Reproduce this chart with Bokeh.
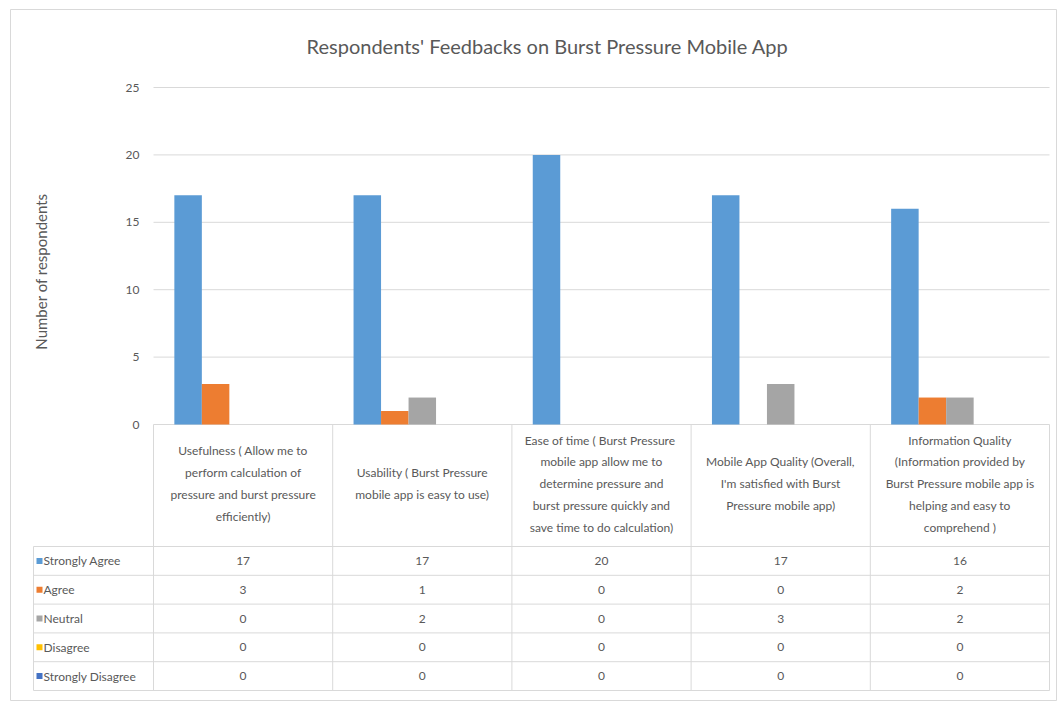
import math
from bokeh.plotting import figure
from bokeh.models import Range1d, FixedTicker, ColumnDataSource
from bokeh.core.properties import value
from bokeh.transform import dodge
from bokeh.embed import file_html
from bokeh.resources import INLINE

# ---------------- data ----------------
categories = [
    "Usefulness ( Allow me to\nperform calculation of\npressure and burst pressure\nefficiently)",
    "Usability ( Burst Pressure\nmobile app is easy to use)",
    "Ease of time (  Burst Pressure\nmobile app allow me to\ndetermine pressure and\nburst pressure quickly and\nsave time to do calculation)",
    "Mobile App Quality (Overall,\nI'm satisfied with Burst\nPressure mobile app)",
    "Information Quality\n(Information provided by\nBurst Pressure mobile app is\nhelping and easy to\ncomprehend )",
]
series_names = ["Strongly Agree", "Agree", "Neutral", "Disagree", "Strongly Disagree"]
strongly_agree = [17, 17, 20, 17, 16]
agree = [3, 1, 0, 0, 2]
neutral = [0, 2, 0, 3, 2]
disagree = [0, 0, 0, 0, 0]
strongly_disagree = [0, 0, 0, 0, 0]
y_ticks = [0, 5, 10, 15, 20, 25]
colors = ["#5B9BD5", "#ED7D31", "#A5A5A5", "#FFC000", "#4472C4"]
title_text = "Respondents' Feedbacks on Burst Pressure Mobile App"
y_title = "Number of respondents"

series_values = [strongly_agree, agree, neutral, disagree, strongly_disagree]

# ---------------- layout helpers ----------------
FRAME_L, FRAME_T, FRAME_R, FRAME_B = 10, 9, 1057, 700
X0_PX, COL_W = 153.0, 179.2      # pixel of category 0 left edge, pixel width of a category
Y0_PX, UNIT_PX = 424.0, 13.48    # pixel of value 0, pixels per unit
HEADER_BOTTOM, ROW_H = 546.0, 28.8
LEGEND_LEFT = 33.0
BW = 27.5 / COL_W
TXT = "#595959"
GRID = "#D9D9D9"
FONT = value("Lato")


def x_of(px):
    return (px - X0_PX) / COL_W


def y_of(py):
    return (Y0_PX - py) / UNIT_PX


p = figure(width=1057, height=701, output_backend="svg", toolbar_location=None,
           x_range=Range1d(x_of(FRAME_L), x_of(FRAME_R)),
           y_range=Range1d(y_of(FRAME_B), y_of(FRAME_T)),
           x_axis_location=None,
           min_border_left=FRAME_L, min_border_top=FRAME_T,
           min_border_right=0, min_border_bottom=1)
p.grid.visible = False
p.outline_line_color = GRID
p.background_fill_color = "white"
p.border_fill_color = "white"

# y axis inside the frame, at the left edge of the plot area
ax = p.yaxis[0]
ax.fixed_location = 0
ax.bounds = (min(y_ticks), max(y_ticks))
ax.ticker = FixedTicker(ticks=y_ticks)
ax.axis_line_color = None
ax.major_tick_line_color = None
ax.minor_tick_line_color = None
ax.major_label_text_color = TXT
ax.major_label_text_font = "Lato"
ax.major_label_text_font_size = "12px"
ax.major_label_standoff = 8

n = len(categories)
# gridlines over the plot area only
p.segment(x0=[0] * len(y_ticks), x1=[n] * len(y_ticks), y0=y_ticks, y1=y_ticks,
          line_color=GRID, line_width=1)

# bars
src = ColumnDataSource(dict(x=[i + 0.5 for i in range(n)],
                            s0=strongly_agree, s1=agree, s2=neutral,
                            s3=disagree, s4=strongly_disagree))
for j in range(len(series_names)):
    p.vbar(x=dodge("x", (j - 2) * BW, range=p.x_range), top="s%d" % j, bottom=0,
           width=BW, source=src, fill_color=colors[j], line_color=None)

# title
p.text(x=[x_of(547)], y=[y_of(45)], text=[title_text], text_align="center",
       text_baseline="middle", text_font=FONT, text_font_size="20px", text_color=TXT)
# y axis title
p.text(x=[x_of(40)], y=[y_of(271)], text=[y_title], angle=math.pi / 2,
       text_align="center", text_baseline="middle", text_font=FONT,
       text_font_size="15px", text_color=TXT)

# ---------------- data table ----------------
n_rows = len(series_names)
table_bottom = HEADER_BOTTOM + n_rows * ROW_H
# vertical lines of category columns
p.segment(x0=list(range(n + 1)), x1=list(range(n + 1)),
          y0=[0] * (n + 1), y1=[y_of(table_bottom)] * (n + 1),
          line_color=GRID, line_width=1)
# legend column left line
p.segment(x0=[x_of(LEGEND_LEFT)], x1=[x_of(LEGEND_LEFT)],
          y0=[y_of(HEADER_BOTTOM)], y1=[y_of(table_bottom)], line_color=GRID)
# row lines
row_lines = [y_of(HEADER_BOTTOM + k * ROW_H) for k in range(n_rows + 1)]
p.segment(x0=[x_of(LEGEND_LEFT)] * len(row_lines), x1=[n] * len(row_lines),
          y0=row_lines, y1=row_lines, line_color=GRID)

# header texts
p.text(x=[i + 0.5 for i in range(n)], y=[y_of((Y0_PX + HEADER_BOTTOM) / 2 - 2)] * n,
       text=categories, text_align="center", text_baseline="middle",
       text_font=FONT, text_font_size="12px", text_color=TXT, text_line_height=1.45)

# legend keys and names
row_centers = [y_of(HEADER_BOTTOM + (k + 0.5) * ROW_H) for k in range(n_rows)]
p.scatter(x=[x_of(39)] * n_rows, y=row_centers, marker="square", size=6,
          fill_color=colors, line_color=None)
p.text(x=[x_of(43)] * n_rows, y=row_centers, text=series_names, text_align="left",
       text_baseline="middle", text_font=FONT, text_font_size="12px", text_color=TXT)

# cell values
cx, cy, ct = [], [], []
for k, vals in enumerate(series_values):
    for i, v in enumerate(vals):
        cx.append(i + 0.5)
        cy.append(row_centers[k])
        ct.append(str(v))
p.text(x=cx, y=cy, text=ct, text_align="center", text_baseline="middle",
       text_font=FONT, text_font_size="12px", text_color=TXT)

open("out.html", "w").write(file_html(p, INLINE))
